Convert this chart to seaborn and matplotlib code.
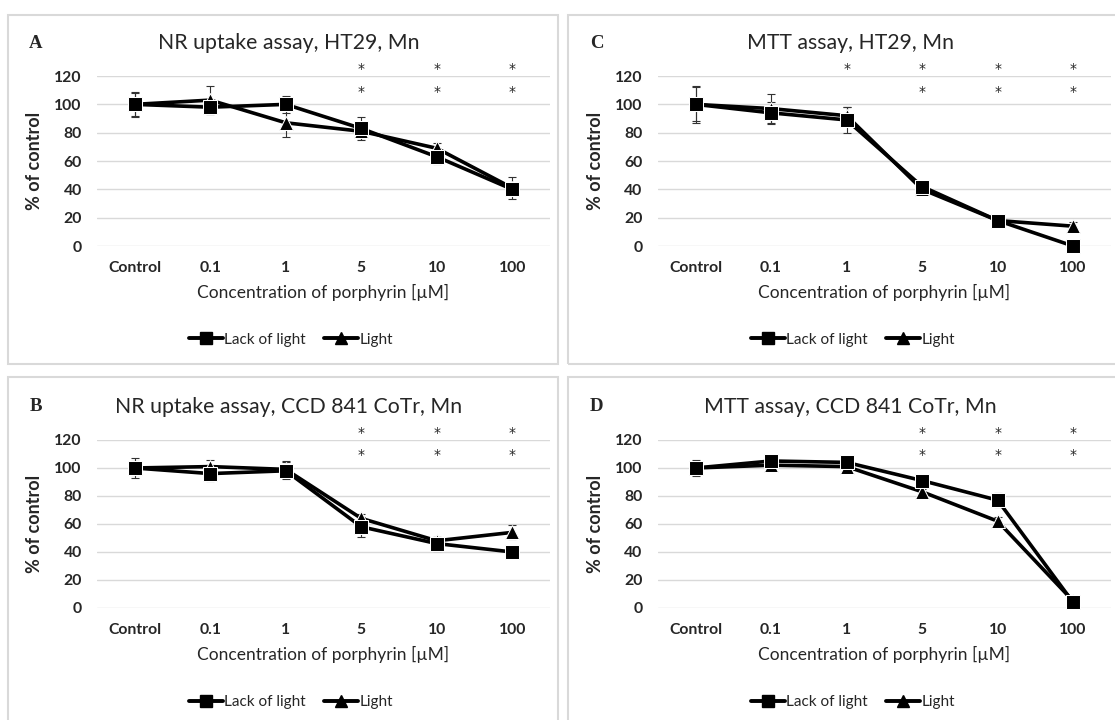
import pandas as pd
import seaborn as sns
import matplotlib.pyplot as plt
from matplotlib.patches import Rectangle
from matplotlib.lines import Line2D

categories = ['Control', '0.1', '1', '5', '10', '100']
conditions = ['Lack of light', 'Light']

# NR uptake, HT29 (A)
nr_ht29_dark = [100, 98, 100, 83, 63, 40]
nr_ht29_dark_sd = [9, 5, 6, 8, 5, 3]
nr_ht29_light = [100, 103, 87, 81, 69, 41]
nr_ht29_light_sd = [8, 10, 10, 5, 4, 8]

# MTT, HT29 (C)
mtt_ht29_dark = [100, 94, 89, 42, 18, 0]
mtt_ht29_dark_sd = [13, 8, 9, 3, 2, 1]
mtt_ht29_light = [100, 97, 92, 40, 18, 14]
mtt_ht29_light_sd = [12, 10, 6, 4, 2, 3]

# NR uptake, CCD 841 CoTr (B)
nr_ccd_dark = [100, 96, 98, 58, 46, 40]
nr_ccd_dark_sd = [7, 5, 6, 7, 5, 1]
nr_ccd_light = [100, 101, 99, 64, 48, 54]
nr_ccd_light_sd = [5, 5, 6, 3, 3, 5]

# MTT, CCD 841 CoTr (D)
mtt_ccd_dark = [100, 105, 104, 91, 77, 4]
mtt_ccd_dark_sd = [6, 2, 2, 2, 5, 2]
mtt_ccd_light = [100, 102, 101, 83, 62, 5]
mtt_ccd_light_sd = [4, 2, 2, 2, 3, 2]

# significance marks (upper row / lower row)
sig_A = (['5', '10', '100'], ['5', '10', '100'])
sig_C = (['1', '5', '10', '100'], ['5', '10', '100'])
sig_B = (['5', '10', '100'], ['5', '10', '100'])
sig_D = (['5', '10', '100'], ['5', '10', '100'])

sns.set_style('white')
plt.rcParams['font.family'] = ['Lato', 'DejaVu Sans']

fig = plt.figure(figsize=(11.15, 7.2), dpi=100)

# light grey frames around each panel
for (x0, y0, w, h) in [(8, 15, 550, 349), (568, 15, 560, 349),
                       (8, 377, 550, 360), (568, 377, 560, 360)]:
    fig.patches.append(Rectangle((x0 / 1115, 1 - (y0 + h) / 720), w / 1115, h / 720,
                                 transform=fig.transFigure, fill=False,
                                 edgecolor='#d9d9d9', linewidth=1.5))

panels = [
    dict(letter='A', title='NR uptake assay, HT29, Mn',
         dark=nr_ht29_dark, dark_sd=nr_ht29_dark_sd,
         light=nr_ht29_light, light_sd=nr_ht29_light_sd, sig=sig_A,
         rect=[0.087, 0.6583, 0.4063, 0.2361], cx=0.259, ty=0.940, lx=0.032, legy=0.528),
    dict(letter='C', title='MTT assay, HT29, Mn',
         dark=mtt_ht29_dark, dark_sd=mtt_ht29_dark_sd,
         light=mtt_ht29_light, light_sd=mtt_ht29_light_sd, sig=sig_C,
         rect=[0.590, 0.6583, 0.4063, 0.2361], cx=0.763, ty=0.940, lx=0.535, legy=0.528),
    dict(letter='B', title='NR uptake assay, CCD 841 CoTr, Mn',
         dark=nr_ccd_dark, dark_sd=nr_ccd_dark_sd,
         light=nr_ccd_light, light_sd=nr_ccd_light_sd, sig=sig_B,
         rect=[0.087, 0.1556, 0.4063, 0.2333], cx=0.259, ty=0.435, lx=0.032, legy=0.025),
    dict(letter='D', title='MTT assay, CCD 841 CoTr, Mn',
         dark=mtt_ccd_dark, dark_sd=mtt_ccd_dark_sd,
         light=mtt_ccd_light, light_sd=mtt_ccd_light_sd, sig=sig_D,
         rect=[0.590, 0.1556, 0.4063, 0.2333], cx=0.763, ty=0.435, lx=0.535, legy=0.025),
]

for p in panels:
    ax = fig.add_axes(p['rect'])
    # Light first so the squares end up drawn on top
    df = pd.DataFrame({
        'Concentration': categories * 2,
        'Value': p['light'] + p['dark'],
        'SD': p['light_sd'] + p['dark_sd'],
        'Condition': [conditions[1]] * 6 + [conditions[0]] * 6,
    })
    for cond in conditions:
        sub = df[df['Condition'] == cond]
        ax.errorbar(sub['Concentration'], sub['Value'], yerr=sub['SD'], fmt='none',
                    ecolor='#333333', elinewidth=0.8, capsize=3, capthick=0.8,
                    zorder=2, clip_on=False)
    sns.lineplot(data=df, x='Concentration', y='Value', style='Condition',
                 style_order=[conditions[1], conditions[0]],
                 markers={'Lack of light': 's', 'Light': '^'}, dashes=False,
                 color='black', linewidth=2.6, markersize=9.5, ax=ax,
                 legend=False, zorder=3)
    for ln in ax.lines:
        ln.set_clip_on(False)

    ax.set_xlim(-0.5, 5.5)
    ax.set_ylim(0, 120)
    ax.set_yticks(range(0, 121, 20))
    ax.grid(axis='y', color='#d9d9d9', linewidth=1)
    ax.set_axisbelow(True)
    sns.despine(ax=ax, left=True, top=True, right=True, bottom=True)
    ax.tick_params(length=0)
    ax.tick_params(axis='x', pad=11)
    ax.tick_params(axis='y', pad=11)
    for lab in ax.get_xticklabels() + ax.get_yticklabels():
        lab.set_fontweight('bold')
        lab.set_fontsize(11.3)
    ax.set_xlabel('Concentration of porphyrin [µM]', fontsize=12.5, labelpad=6)
    ax.set_ylabel('% of control', fontsize=13, fontweight='bold', labelpad=8)

    upper, lower = p['sig']
    for c in upper:
        ax.text(c, 125, '*', ha='center', va='center', fontsize=10,
                family='DejaVu Sans', clip_on=False)
    for c in lower:
        ax.text(c, 109, '*', ha='center', va='center', fontsize=10,
                family='DejaVu Sans', clip_on=False)

    fig.text(p['cx'], p['ty'], p['title'], ha='center', va='center', fontsize=15.3)
    fig.text(p['lx'], p['ty'], p['letter'], ha='center', va='center', fontsize=13.5,
             fontweight='bold', family='Liberation Serif')

    handles = [Line2D([], [], color='black', marker='s', linewidth=2.8, markersize=8.5),
               Line2D([], [], color='black', marker='^', linewidth=2.8, markersize=8.5)]
    fig.legend(handles, conditions, loc='center', bbox_to_anchor=(p['cx'] + 0.002, p['legy']),
               ncol=2, frameon=False, fontsize=11, handlelength=2.2, handletextpad=0.1,
               columnspacing=1.2)

fig.savefig('out.png', dpi=100)
